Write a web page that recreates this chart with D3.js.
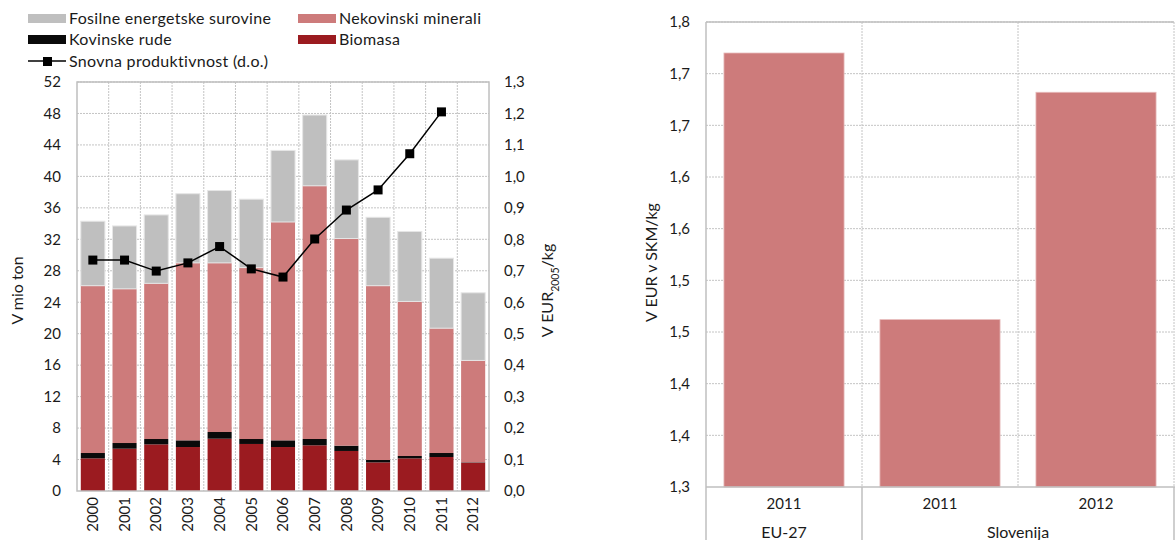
<!DOCTYPE html>
<html>
<head>
<meta charset="utf-8">
<script src="https://cdn.jsdelivr.net/npm/d3@7/dist/d3.min.js"></script>
<style>
  html, body { margin: 0; padding: 0; background: #fff; }
  svg { display: block; font-family: Lato, "Open Sans", sans-serif; }
</style>
</head>
<body>
<svg id="chart" width="1175" height="540"></svg>
<script>
// ---------- data ----------
const years = ["2000","2001","2002","2003","2004","2005","2006","2007","2008","2009","2010","2011","2012"];
const biomasa = [4.15, 5.38, 5.93, 5.59, 6.65, 5.98, 5.59, 5.81, 5.09, 3.64, 4.15, 4.32, 3.6];
const kovinskeRude = [0.68, 0.72, 0.68, 0.85, 0.85, 0.63, 0.85, 0.8, 0.67, 0.3, 0.3, 0.51, 0.05];
const nekovinskiMinerali = [21.27, 19.6, 19.79, 22.56, 21.5, 21.79, 27.76, 32.19, 26.34, 22.16, 19.65, 15.87, 12.95];
const fosilneSurovine = [8.2, 8.0, 8.7, 8.8, 9.2, 8.7, 9.1, 9.0, 10.0, 8.7, 8.9, 8.9, 8.6];
const snovnaProduktivnost = [0.734, 0.734, 0.699, 0.725, 0.777, 0.706, 0.680, 0.801, 0.893, 0.957, 1.072, 1.205, null];
const leftTicks = [0,4,8,12,16,20,24,28,32,36,40,44,48,52];
const rightTicks = [0,0.1,0.2,0.3,0.4,0.5,0.6,0.7,0.8,0.9,1.0,1.1,1.2,1.3];

const skmCategories = ["EU-27 2011", "Slovenija 2011", "Slovenija 2012"];
const skmYears = ["2011", "2011", "2012"];
const skmGroups = ["EU-27", "Slovenija"];
const skmGroupSizes = [1, 2];
const skmValues = [1.720, 1.462, 1.682];
const skmTicks = [1.30,1.35,1.40,1.45,1.50,1.55,1.60,1.65,1.70,1.75];

const seriesNames = ["Biomasa", "Kovinske rude", "Nekovinski minerali", "Fosilne energetske surovine"];
const seriesColors = ["#9b1b20", "#0a0a0a", "#cd7b7b", "#bfbfbf"];

// ---------- setup ----------
const svg = d3.select("#chart");
const gridColor = "#c4c4c4";
const borderColor = "#bfbfbf";
const textColor = "#1a1a1a";
const fmt1 = v => d3.format(".1f")(v + 1e-9).replace(".", ",");

// ================= LEFT CHART =================
const L = {left: 77, right: 489, top: 82, bottom: 491};
const x = d3.scaleBand().domain(years).range([L.left, L.right]).paddingInner(0.24).paddingOuter(0.12);
const yL = d3.scaleLinear().domain([0, 52]).range([L.bottom, L.top]);
const yR = d3.scaleLinear().domain([0, 1.3]).range([L.bottom, L.top]);

const gL = svg.append("g");
// grid
gL.append("g").selectAll("line").data(leftTicks.slice(1)).join("line")
  .attr("x1", L.left).attr("x2", L.right)
  .attr("y1", d => yL(d)).attr("y2", d => yL(d))
  .attr("stroke", gridColor).attr("stroke-width", 1).attr("stroke-dasharray", "2,1");
const step = x.step();
gL.append("g").selectAll("line").data(d3.range(1, years.length)).join("line")
  .attr("x1", i => L.left + i * step).attr("x2", i => L.left + i * step)
  .attr("y1", L.top).attr("y2", L.bottom)
  .attr("stroke", gridColor).attr("stroke-width", 1).attr("stroke-dasharray", "2,1");

// stacked bars
const rows = years.map((yr, i) => ({year: yr, b: biomasa[i], k: kovinskeRude[i], n: nekovinskiMinerali[i], f: fosilneSurovine[i]}));
const stack = d3.stack().keys(["b","k","n","f"])(rows);
stack.forEach((layer, li) => {
  gL.append("g").selectAll("rect").data(layer).join("rect")
    .attr("x", d => x(d.data.year))
    .attr("width", x.bandwidth())
    .attr("y", d => yL(d[1]))
    .attr("height", d => yL(d[0]) - yL(d[1]))
    .attr("fill", seriesColors[li]);
});
// light edge on the bar tops
gL.append("g").selectAll("rect").data(stack[3]).join("rect")
  .attr("x", d => x(d.data.year)).attr("width", x.bandwidth())
  .attr("y", d => yL(d[1])).attr("height", d => yL(d[0]) - yL(d[1]))
  .attr("fill", "none").attr("stroke", "#e6e6e6").attr("stroke-width", 1);

// border
gL.append("rect").attr("x", L.left).attr("y", L.top).attr("width", L.right - L.left).attr("height", L.bottom - L.top)
  .attr("fill", "none").attr("stroke", borderColor).attr("stroke-width", 1.5);

// line
const lineData = years.map((yr, i) => ({year: yr, v: snovnaProduktivnost[i]})).filter(d => d.v != null);
const line = d3.line().x(d => x(d.year) + x.bandwidth() / 2).y(d => yR(d.v));
gL.append("path").datum(lineData).attr("d", line).attr("fill", "none").attr("stroke", "#000").attr("stroke-width", 1.5);
gL.append("g").selectAll("rect").data(lineData).join("rect")
  .attr("x", d => x(d.year) + x.bandwidth() / 2 - 4.5)
  .attr("y", d => yR(d.v) - 4.5)
  .attr("width", 9).attr("height", 9).attr("fill", "#000");

// axes
const axLeft = d3.axisLeft(yL).tickValues(leftTicks).tickSize(0).tickPadding(16);
const gAxL = gL.append("g").attr("transform", `translate(${L.left},0)`).call(axLeft);
const axRight = d3.axisRight(yR).tickValues(rightTicks).tickSize(0).tickPadding(15).tickFormat(fmt1);
const gAxR = gL.append("g").attr("transform", `translate(${L.right},0)`).call(axRight);
const axBottom = d3.axisBottom(x).tickSize(0).tickPadding(6);
const gAxB = gL.append("g").attr("transform", `translate(0,${L.bottom})`).call(axBottom);
[gAxL, gAxR, gAxB].forEach(g => {
  g.select(".domain").remove();
  g.selectAll("text").attr("font-size", 15).attr("fill", textColor).attr("font-family", "Lato, sans-serif");
});
gAxB.selectAll("text")
  .attr("transform", "rotate(-90)")
  .attr("text-anchor", "end")
  .attr("dx", "-6px")
  .attr("dy", "0.35em")
  .attr("y", 0);

// axis titles
gL.append("text").attr("transform", `translate(23,${(L.top + L.bottom) / 2 + 4}) rotate(-90)`)
  .attr("text-anchor", "middle").attr("font-size", 16).attr("fill", textColor).text("V mio ton");
const rt = gL.append("text").attr("transform", `translate(553,${(L.top + L.bottom) / 2 + 4}) rotate(-90)`)
  .attr("text-anchor", "middle").attr("font-size", 16).attr("fill", textColor);
rt.append("tspan").text("V EUR");
rt.append("tspan").attr("font-size", 10.5).attr("baseline-shift", "sub").text("2005");
rt.append("tspan").text("/kg");

// legend
const legend = svg.append("g").attr("letter-spacing", "0.3px");
const legendItems = [
  {name: seriesNames[3], color: seriesColors[3], x: 28, y: 14},
  {name: seriesNames[2], color: seriesColors[2], x: 298, y: 14},
  {name: seriesNames[1], color: seriesColors[1], x: 28, y: 35},
  {name: seriesNames[0], color: seriesColors[0], x: 298, y: 35}
];
legendItems.forEach(it => {
  legend.append("rect").attr("x", it.x).attr("y", it.y).attr("width", 38).attr("height", 9).attr("fill", it.color);
  legend.append("text").attr("x", it.x + 41).attr("y", it.y + 10).attr("font-size", 16).attr("fill", textColor).text(it.name);
});
legend.append("line").attr("x1", 28).attr("x2", 66).attr("y1", 61).attr("y2", 61).attr("stroke", "#000").attr("stroke-width", 1.5);
legend.append("rect").attr("x", 43).attr("y", 57).attr("width", 9).attr("height", 9).attr("fill", "#000");
legend.append("text").attr("x", 69).attr("y", 67).attr("font-size", 16).attr("fill", textColor).text("Snovna produktivnost (d.o.)");

// ================= RIGHT CHART =================
const R = {left: 706, right: 1174, top: 22, bottom: 487};
const x2 = d3.scaleBand().domain(skmCategories).range([R.left, R.right]).paddingInner(0.23).paddingOuter(0.115);
const y2 = d3.scaleLinear().domain([1.30, 1.75]).range([R.bottom, R.top]);
const gR = svg.append("g");
const step2 = x2.step();

gR.append("g").selectAll("line").data(skmTicks.slice(1)).join("line")
  .attr("x1", R.left).attr("x2", R.right)
  .attr("y1", d => y2(d)).attr("y2", d => y2(d))
  .attr("stroke", gridColor).attr("stroke-dasharray", "2,1");
gR.append("g").selectAll("line").data(d3.range(1, skmCategories.length + 1)).join("line")
  .attr("x1", i => R.left + i * step2).attr("x2", i => R.left + i * step2)
  .attr("y1", R.top).attr("y2", R.bottom)
  .attr("stroke", gridColor).attr("stroke-dasharray", "2,1");

gR.append("g").selectAll("rect").data(skmCategories).join("rect")
  .attr("x", d => x2(d)).attr("width", x2.bandwidth())
  .attr("y", (d, i) => y2(skmValues[i]))
  .attr("height", (d, i) => y2(1.30) - y2(skmValues[i]))
  .attr("fill", "#cd7b7b").attr("stroke", "#e8bcbc").attr("stroke-width", 0.8);

// borders
gR.append("line").attr("x1", R.left).attr("x2", R.right).attr("y1", R.top).attr("y2", R.top).attr("stroke", borderColor).attr("stroke-width", 1.5);
gR.append("line").attr("x1", R.left).attr("x2", R.left).attr("y1", R.top).attr("y2", 540).attr("stroke", borderColor).attr("stroke-width", 1.5);
gR.append("line").attr("x1", R.left).attr("x2", R.right + 2).attr("y1", R.bottom).attr("y2", R.bottom).attr("stroke", borderColor).attr("stroke-width", 1.5);
// group separators below axis
let acc = 0;
skmGroupSizes.forEach((n, gi) => {
  const x0 = R.left + acc * step2;
  acc += n;
  const x1 = R.left + acc * step2;
  gR.append("line").attr("x1", x1).attr("x2", x1).attr("y1", R.bottom).attr("y2", 540).attr("stroke", borderColor).attr("stroke-width", 1.5);
  gR.append("text").attr("x", (x0 + x1) / 2).attr("y", 538).attr("text-anchor", "middle")
    .attr("font-size", 16).attr("fill", textColor).text(skmGroups[gi]);
});

// y axis
const ax2 = d3.axisLeft(y2).tickValues(skmTicks).tickSize(0).tickPadding(16).tickFormat(fmt1);
const gAx2 = gR.append("g").attr("transform", `translate(${R.left},0)`).call(ax2);
gAx2.select(".domain").remove();
gAx2.selectAll("text").attr("font-size", 15).attr("fill", textColor).attr("font-family", "Lato, sans-serif");

// x category labels
gR.append("g").selectAll("text").data(skmCategories).join("text")
  .attr("x", d => x2(d) + x2.bandwidth() / 2).attr("y", 509)
  .attr("text-anchor", "middle").attr("font-size", 15).attr("fill", textColor)
  .text((d, i) => skmYears[i]);

gR.append("text").attr("transform", `translate(657,${(R.top + R.bottom) / 2 + 8}) rotate(-90)`)
  .attr("text-anchor", "middle").attr("font-size", 16).attr("fill", textColor).text("V EUR v SKM/kg");
</script>
</body>
</html>
